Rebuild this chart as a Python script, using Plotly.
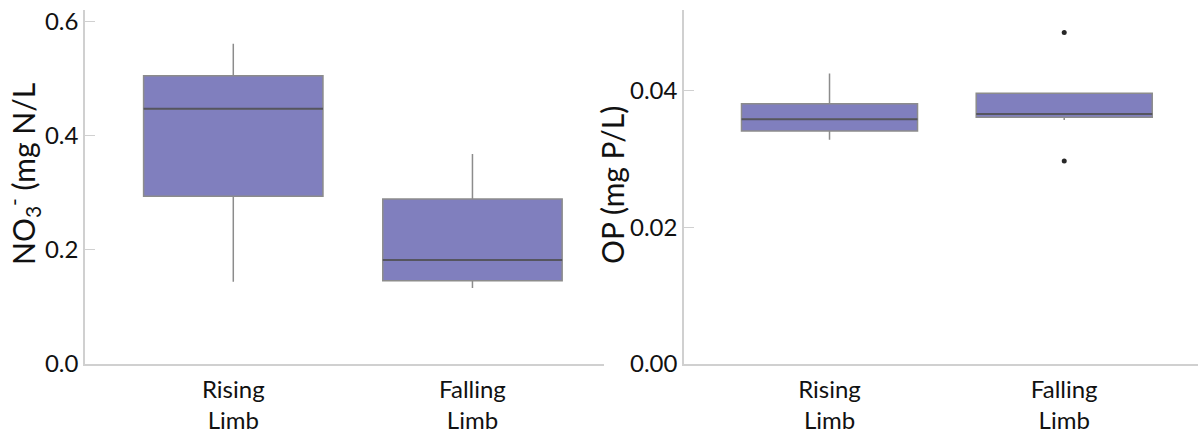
import plotly.graph_objects as go

categories = ["Rising<br>Limb", "Falling<br>Limb"]

# NO3- (mg N/L) box statistics
no3_lower = [0.144, 0.133]
no3_q1 = [0.294, 0.146]
no3_median = [0.447, 0.182]
no3_q3 = [0.505, 0.289]
no3_upper = [0.561, 0.368]

# OP (mg P/L) box statistics
op_lower = [0.0328, 0.0357]
op_q1 = [0.0341, 0.0361]
op_median = [0.0358, 0.0366]
op_q3 = [0.0381, 0.0396]
op_upper = [0.0425, 0.0396]
op_outlier_cat = ["Falling<br>Limb", "Falling<br>Limb"]
op_outlier_val = [0.0485, 0.0297]

FILL = "rgb(128,127,190)"
EDGE = "rgb(140,140,140)"
MED = "rgb(85,85,95)"
AXC = "rgb(208,208,208)"
FONT = "Lato"

fig = go.Figure()

def add_boxes(xa, ya, lo, q1, med, q3, up):
    fig.add_trace(go.Box(
        x=categories, lowerfence=lo, q1=q1, median=med, q3=q3, upperfence=up,
        fillcolor=FILL, line=dict(color=EDGE, width=1.5), width=0.75,
        whiskerwidth=0, boxpoints=False, xaxis=xa, yaxis=ya,
        showlegend=False, hoverinfo="skip"))
    # darker median line
    fig.add_trace(go.Box(
        x=categories, lowerfence=med, q1=med, median=med, q3=med, upperfence=med,
        fillcolor="rgba(0,0,0,0)", line=dict(color=MED, width=2), width=0.75,
        whiskerwidth=0, boxpoints=False, xaxis=xa, yaxis=ya,
        showlegend=False, hoverinfo="skip"))

add_boxes("x", "y", no3_lower, no3_q1, no3_median, no3_q3, no3_upper)
add_boxes("x2", "y2", op_lower, op_q1, op_median, op_q3, op_upper)

fig.add_trace(go.Scatter(
    x=op_outlier_cat, y=op_outlier_val, mode="markers",
    marker=dict(color="rgb(40,40,40)", size=5),
    xaxis="x2", yaxis="y2", showlegend=False, hoverinfo="skip"))

W, H = 1198, 433
TOP, BOT = 10, 364
xaxis_common = dict(
    type="category", showline=True, linecolor=AXC, linewidth=1.5,
    showgrid=False, zeroline=False, ticks="", ticklabelstandoff=3,
    tickfont=dict(family=FONT, size=24, color="#111"),
    categoryorder="array", categoryarray=categories,
)
yaxis_common = dict(
    showline=True, linecolor=AXC, linewidth=1.5, showgrid=False, zeroline=False,
    ticks="inside", ticklen=10, tickcolor=AXC, tickwidth=1,
    ticklabeloverflow="allow",
    tickfont=dict(family=FONT, size=24, color="#111"),
)

fig.update_layout(
    width=W, height=H,
    margin=dict(l=0, r=0, t=TOP, b=H - BOT),
    paper_bgcolor="white", plot_bgcolor="white",
    boxmode="overlay",
    xaxis=dict(domain=[85 / W, 604 / W], range=[-0.62, 1.55],
               anchor="y", **xaxis_common),
    xaxis2=dict(domain=[684 / W, 1.0], range=[-0.62, 1.57],
                anchor="y2", **xaxis_common),
    yaxis=dict(domain=[0, 1], range=[0, 0.62], tickvals=[0, 0.2, 0.4, 0.6],
               tickformat=".1f", anchor="x", **yaxis_common),
    yaxis2=dict(domain=[0, 1], range=[0, 0.0518], tickvals=[0, 0.02, 0.04],
                tickformat=".2f", anchor="x2", **yaxis_common),
)

def ytitle(text, px, py, anchor="center"):
    fig.add_annotation(
        text=text, textangle=-90, showarrow=False,
        xref="paper", yref="paper",
        x=px / W, y=1 - (py - TOP) / (BOT - TOP),
        xanchor=anchor, yanchor="middle", borderpad=0,
        font=dict(family=FONT, size=30, color="#111"))

ytitle("NO<sub>3</sub><sup>-</sup> (mg N/L", 0, 174, anchor="left")
ytitle("OP (mg P/L)", 612, 185)

fig.write_html("out.html", config={"displayModeBar": False},
               post_script="document.body.style.margin='0px';")
